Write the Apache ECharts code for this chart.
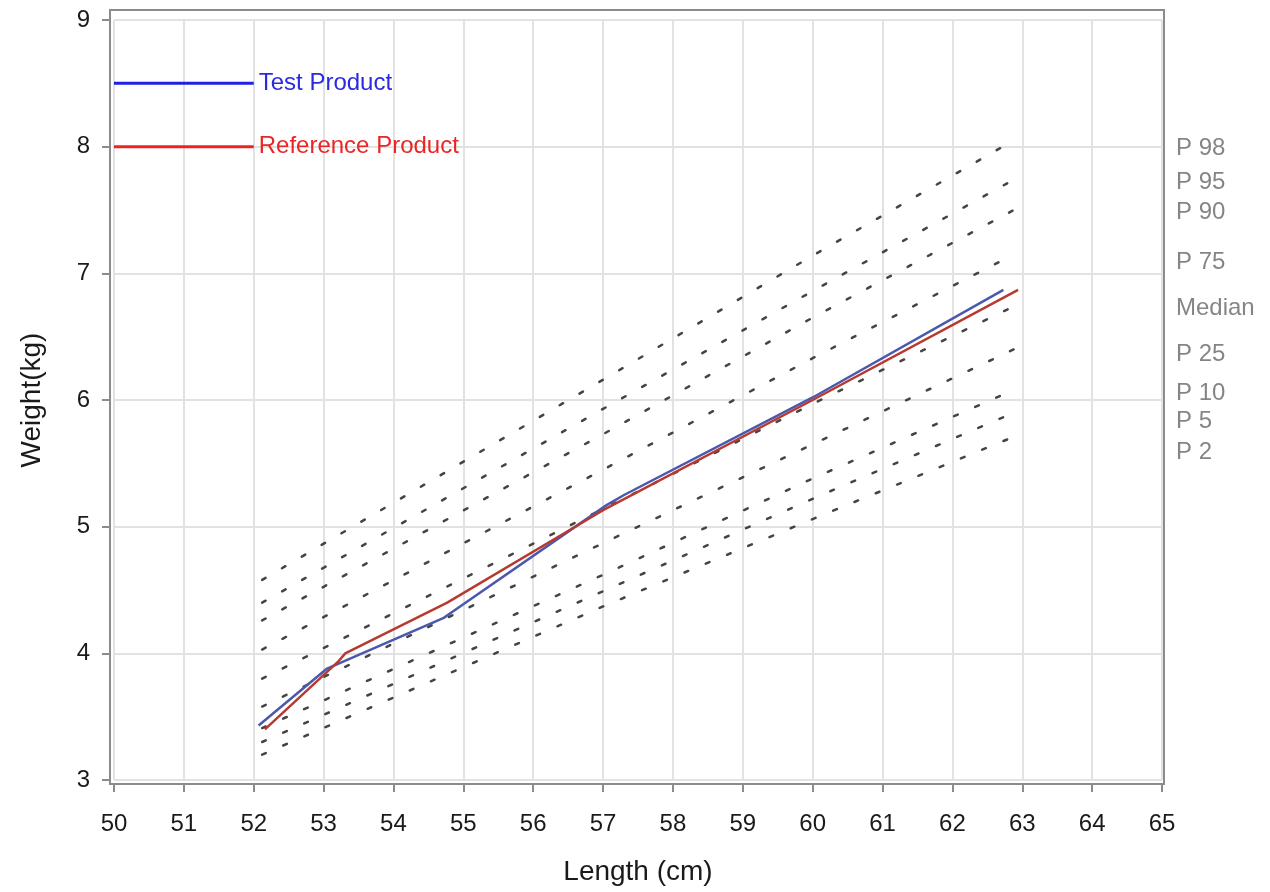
<!DOCTYPE html>
<html lang="en" style="height: 100%">
<head>
    <meta charset="UTF-8">
    <title>Weight for length</title>
    <script src="https://cdn.jsdelivr.net/npm/echarts@6/dist/echarts.min.js"></script>
</head>
<body style="height: 100%; margin: 0">
<div id="main" style="width: 1270px; height: 892px"></div>
<script>
    // percentile curves (at a few lengths)
    var pctNames = ['P 98', 'P 95', 'P 90', 'P 75', 'Median', 'P 25', 'P 10', 'P 5', 'P 2'];
    var pctX = [52.12, 57, 60, 62.88];
    var p98 = [4.58, 6.16, 7.14, 8.05];
    var p95 = [4.40, 5.93, 6.86, 7.74];
    var p90 = [4.26, 5.73, 6.65, 7.50];
    var p75 = [4.03, 5.45, 6.33, 7.15];
    var pMed = [3.80, 5.14, 5.97, 6.74];
    var p25 = [3.58, 4.87, 5.65, 6.40];
    var p10 = [3.41, 4.62, 5.38, 6.08];
    var p5 = [3.30, 4.49, 5.22, 5.90];
    var p2 = [3.20, 4.37, 5.06, 5.71];
    // where the right hand labels sit (kg)
    var pctLabelY = [7.99, 7.72, 7.48, 7.09, 6.72, 6.36, 6.05, 5.83, 5.59];

    var testX = [52.07, 53.05, 54.72, 54.85, 57.05, 57.3, 60.0, 62.73];
    var testY = [3.43, 3.88, 4.28, 4.33, 5.17, 5.25, 6.02, 6.87];
    var refX = [52.16, 53.2, 53.31, 54.77, 57.0, 60.0, 62.94];
    var refY = [3.40, 3.93, 4.00, 4.40, 5.13, 6.00, 6.87];

    // legend keys drawn inside the plot
    var keyX = [50, 52];
    var keyTestY = 8.5;
    var keyRefY = 8;

    function zip(xs, ys) {
        return xs.map(function (x, i) { return [x, ys[i]]; });
    }

    var pctData = [p98, p95, p90, p75, pMed, p25, p10, p5, p2];
    var font = "'Liberation Sans', Arial, sans-serif";

    var series = [];
    pctData.forEach(function (ys, i) {
        series.push({
            name: pctNames[i],
            type: 'line',
            data: zip(pctX, ys),
            symbol: 'none',
            silent: true,
            lineStyle: {color: '#444', width: 2.5, type: [4, 19], cap: 'round'},
            z: 2
        });
    });
    series.push({
        name: 'labels',
        type: 'scatter',
        data: pctLabelY.map(function (y, i) { return [65.2, y, pctNames[i]]; }),
        symbolSize: 0,
        clip: false,
        silent: true,
        label: {
            show: true,
            position: 'right',
            distance: 0,
            formatter: function (p) { return p.data[2]; },
            color: '#666',
            fontSize: 24,
            fontFamily: font
        }
    });
    series.push({
        name: 'Test Product',
        type: 'line',
        data: zip(testX, testY),
        symbol: 'none',
        silent: true,
        lineStyle: {color: '#4a58ad', width: 2.5},
        z: 4
    });
    series.push({
        name: 'Reference Product',
        type: 'line',
        data: zip(refX, refY),
        symbol: 'none',
        silent: true,
        lineStyle: {color: '#b73a30', width: 2.5},
        z: 5
    });
    series.push({
        name: 'key test',
        type: 'line',
        data: zip(keyX, [keyTestY, keyTestY]),
        symbol: 'none',
        silent: true,
        lineStyle: {color: '#1f1fe6', width: 3},
        endLabel: {show: true, formatter: 'Test Product', color: '#2a2ae0', fontSize: 24, fontFamily: font, distance: 5}
    });
    series.push({
        name: 'key ref',
        type: 'line',
        data: zip(keyX, [keyRefY, keyRefY]),
        symbol: 'none',
        silent: true,
        lineStyle: {color: '#ee2222', width: 3},
        endLabel: {show: true, formatter: 'Reference Product', color: '#e82626', fontSize: 24, fontFamily: font, distance: 5}
    });

    var myoption = {
        animation: false,
        textStyle: {fontFamily: font},
        grid: {left: 114, right: 108, top: 20, bottom: 112},
        graphic: [{
            type: 'rect',
            shape: {x: 110, y: 10, width: 1054, height: 774},
            style: {fill: 'none', stroke: '#8c8c8c', lineWidth: 2},
            z: 10
        }],
        xAxis: {
            type: 'value',
            min: 50,
            max: 65,
            interval: 1,
            offset: 4,
            name: 'Length (cm)',
            nameLocation: 'middle',
            nameGap: 74,
            nameTextStyle: {fontSize: 28, color: '#1a1a1a'},
            axisLine: {show: false},
            axisTick: {show: true, length: 8, lineStyle: {color: '#8c8c8c', width: 2}},
            axisLabel: {fontSize: 24, color: '#1a1a1a', margin: 28},
            splitLine: {show: true, lineStyle: {color: '#e2e2e2', width: 2}}
        },
        yAxis: {
            type: 'value',
            min: 3,
            max: 9,
            interval: 1,
            offset: 4,
            name: 'Weight(kg)',
            nameLocation: 'middle',
            nameGap: 64,
            nameTextStyle: {fontSize: 28, color: '#1a1a1a'},
            axisLine: {show: false},
            axisTick: {show: true, length: 8, lineStyle: {color: '#8c8c8c', width: 2}},
            axisLabel: {fontSize: 24, color: '#1a1a1a', margin: 20},
            splitLine: {show: true, lineStyle: {color: '#e2e2e2', width: 2}}
        },
        series: series
    };
    var myChart = echarts.init(document.getElementById('main'));
    myChart.setOption(myoption);
</script>
</body>
</html>
